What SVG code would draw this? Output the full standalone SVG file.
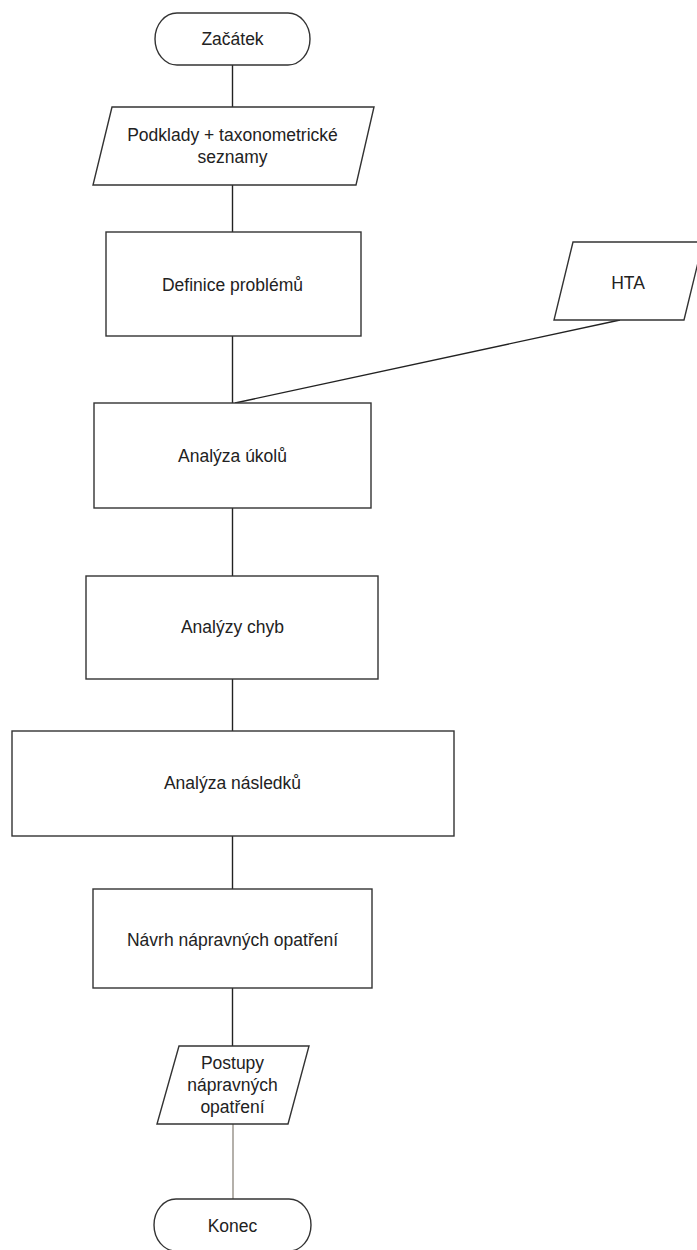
<svg xmlns="http://www.w3.org/2000/svg" width="697" height="1250" viewBox="0 0 697 1250">
<style>
.s{fill:#fff;stroke:#333;stroke-width:1.4}
.t{font-family:"Liberation Sans",Arial,sans-serif;font-size:17.5px;fill:#222;text-anchor:middle;dominant-baseline:central}
.c{stroke:#222;stroke-width:1.4;fill:none}
</style>
<rect width="697" height="1250" fill="#fff"/>
<g id="connectors">
<line class="c" x1="232.5" y1="65" x2="232.5" y2="107"/>
<line class="c" x1="232.5" y1="185" x2="232.5" y2="232"/>
<line class="c" x1="232.5" y1="336" x2="232.5" y2="403"/>
<line class="c" x1="235" y1="403" x2="620" y2="320"/>
<line class="c" x1="232.5" y1="508" x2="232.5" y2="576"/>
<line class="c" x1="232.5" y1="679" x2="232.5" y2="731"/>
<line class="c" x1="232.5" y1="836" x2="232.5" y2="889"/>
<line class="c" x1="232.5" y1="988" x2="232.5" y2="1046"/>
<line x1="233" y1="1124" x2="233" y2="1199" stroke="#b4b0aa" stroke-width="2"/>
</g>
<g id="start">
<rect class="s" x="155" y="13" width="155" height="52" rx="22" ry="26"/>
<text class="t" x="232.5" y="39">Začátek</text>
</g>
<g id="podklady">
<polygon class="s" points="112,107 374,107 356,185 93,185"/>
<text class="t" x="232.5" y="135">Podklady + taxonometrické</text>
<text class="t" x="232.5" y="157">seznamy</text>
</g>
<g id="definice">
<rect class="s" x="106" y="232" width="255" height="104"/>
<text class="t" x="232.5" y="285">Definice problémů</text>
</g>
<g id="hta">
<polygon class="s" points="573,242 703,242 684,320 554,320"/>
<text class="t" x="628" y="283">HTA</text>
</g>
<g id="analyza-ukolu">
<rect class="s" x="94" y="403" width="277" height="105"/>
<text class="t" x="232.5" y="456">Analýza úkolů</text>
</g>
<g id="analyzy-chyb">
<rect class="s" x="86" y="576" width="292" height="103"/>
<text class="t" x="232.5" y="627">Analýzy chyb</text>
</g>
<g id="analyza-nasledku">
<rect class="s" x="12" y="731" width="442" height="105"/>
<text class="t" x="232.5" y="783">Analýza následků</text>
</g>
<g id="navrh">
<rect class="s" x="93" y="889" width="279" height="99"/>
<text class="t" x="232.5" y="940">Návrh nápravných opatření</text>
</g>
<g id="postupy">
<polygon class="s" points="179,1046 309,1046 288,1124 157,1124"/>
<text class="t" x="232.5" y="1063">Postupy</text>
<text class="t" x="232.5" y="1085">nápravných</text>
<text class="t" x="232.5" y="1107">opatření</text>
</g>
<g id="konec">
<rect class="s" x="154" y="1199" width="157" height="52" rx="22" ry="26"/>
<text class="t" x="232.5" y="1226">Konec</text>
</g>
</svg>
